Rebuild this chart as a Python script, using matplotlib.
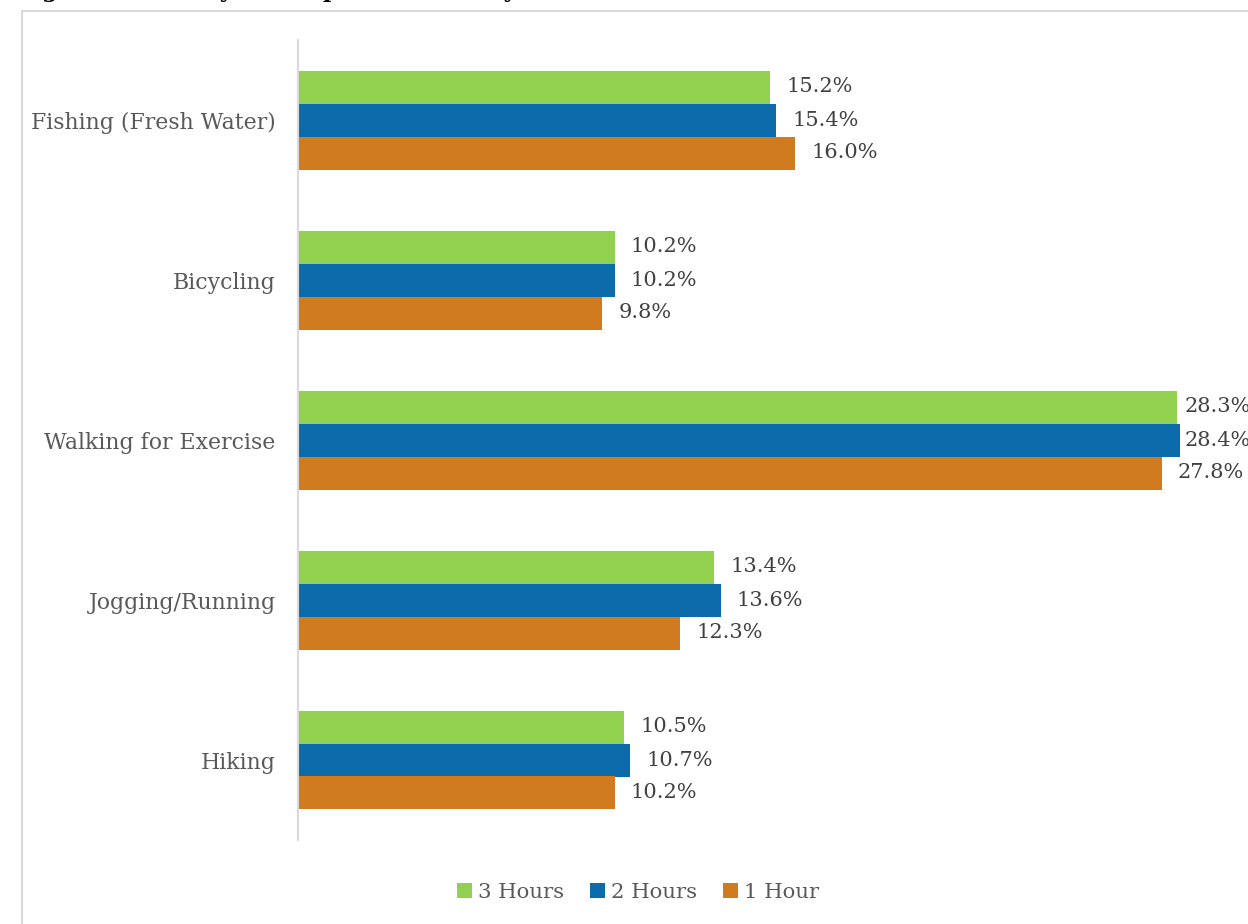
import matplotlib
matplotlib.use("Agg")
import matplotlib.pyplot as plt
from matplotlib.patches import Rectangle
import numpy as np

activities = ["Fishing (Fresh Water)", "Bicycling", "Walking for Exercise",
              "Jogging/Running", "Hiking"]
series_names = ["3 Hours", "2 Hours", "1 Hour"]
three_hours = [15.2, 10.2, 28.3, 13.4, 10.5]
two_hours = [15.4, 10.2, 28.4, 13.6, 10.7]
one_hour = [16.0, 9.8, 27.8, 12.3, 10.2]
colors = ["#92D050", "#0B6BAB", "#D07B1F"]

W, H = 1248, 924
fig = plt.figure(figsize=(W / 100, H / 100), dpi=100)
plt.rcParams["font.family"] = ["DejaVu Serif"]

# outer chart border
fig.patches.append(Rectangle((22 / W, -0.05), 1.1, 1 - 11 / H + 0.05,
                             transform=fig.transFigure, fill=False,
                             edgecolor="#D9D9D9", linewidth=1.5))

# heading, cut at the top edge
fig.text(18 / W, 1 + 3 / H, "Figure 8: Activity Participation Rates by Drive Time",
         ha="left", va="baseline", fontsize=16, fontweight="bold", color="black")

ax = fig.add_axes([298 / W, 1 - 840 / H, (1230 - 298) / W, 800 / H])
ax.set_xlim(0, 30)
ax.set_ylim(len(activities) - 0.5, -0.5)

px_per_unit = (1230 - 298) / 30.0
label_gap = 16 / px_per_unit       # gap between bar end and label
label_max = (1185 - 298) / px_per_unit  # labels are pulled in near the edge

bar_h = 33 / 160
y = np.arange(len(activities))
offsets = [-bar_h, 0, bar_h]
for vals, name, col, off in zip([three_hours, two_hours, one_hour],
                                series_names, colors, offsets):
    bars = ax.barh(y + off, vals, height=bar_h, color=col, label=name)
    for b, v in zip(bars, vals):
        ax.text(min(b.get_width() + label_gap, label_max),
                b.get_y() + b.get_height() / 2, f"{v:.1f}%",
                ha="left", va="center", fontsize=15, color="#404040",
                clip_on=False)

ax.set_yticks(y)
ax.set_yticklabels(activities, fontsize=15.8, color="#595959")
ax.tick_params(axis="y", length=0, pad=16)
ax.set_xticks([])
for s in ["top", "right", "bottom"]:
    ax.spines[s].set_visible(False)
ax.spines["left"].set_color("#D9D9D9")
ax.spines["left"].set_linewidth(1.5)

leg = fig.legend(loc="center", bbox_to_anchor=(638 / W, 1 - 892 / H), ncol=3,
                 frameon=False, fontsize=15.3, handlelength=0.7, handleheight=0.7,
                 handletextpad=0.3, columnspacing=1.2)
for t in leg.get_texts():
    t.set_color("#595959")

fig.savefig("out.png", dpi=100)
